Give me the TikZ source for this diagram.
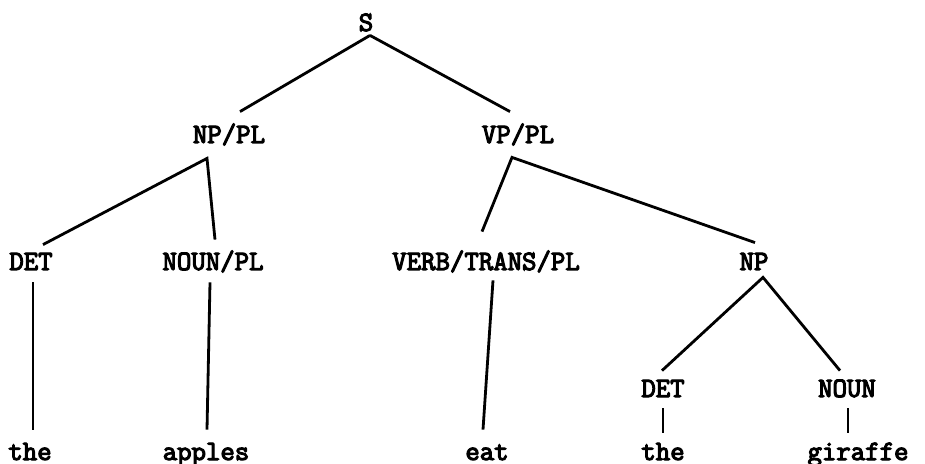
\documentclass[tikz,border=0pt]{standalone}
\usepackage{fontspec}
\newfontfamily\treefont{Latin Modern Mono}[FakeBold=4]
\usetikzlibrary{positioning}
\tikzset{
  cat/.style={inner sep=0pt,anchor=base,text height=7.5pt,text depth=0pt,
              font=\treefont\fontsize{14}{16}\selectfont,text=black},
  word/.style={cat},
  branch/.style={draw=black,line width=1.4pt},
}
\begin{document}
\begin{tikzpicture}[x=0.5pt,y=-0.5pt]
  \useasboundingbox[fill=white] (0,0) rectangle (925,464);

  % ---------- phrase level ----------
  \node[cat] (s)    at (366,31)  {S};
  \node[cat] (nppl) at (229,143) {NP/PL};
  \node[cat] (vppl) at (518,143) {VP/PL};

  % ---------- pre-terminals ----------
  \node[cat] (det)  at (31,270)  {DET};
  \node[cat] (noun) at (213,270) {NOUN/PL};
  \node[cat] (verb) at (486,270) {VERB/TRANS/PL};
  \node[cat] (np)   at (754,270) {NP};
  \node[cat] (detb) at (663,397) {DET};
  \node[cat] (nounb) at (847,397) {NOUN};

  % ---------- words ----------
  \node[word] (the)    at (30,460)  {the};
  \node[word] (apples) at (206,460) {apples};
  \node[word] (eat)    at (487,460) {eat};
  \node[word] (theb)   at (663,460) {the};
  \node[word] (giraffe) at (858,460) {giraffe};

  % ---------- branches ----------
  \draw[branch] ([shift={(4,4)}]s.south) -- ([shift={(11,-16)}]nppl.north);
  \draw[branch] ([shift={(4,4)}]s.south) -- ([shift={(-8,-16)}]vppl.north);
  \draw[branch] ([shift={(12,-10)}]det.north) -- ([shift={(-22,15)}]nppl.south)
                -- ([shift={(2,-15)}]noun.north);
  \draw[branch] ([shift={(-4,-23)}]verb.north) -- ([shift={(-6,14)}]vppl.south)
                -- ([shift={(1,-12)}]np.north);
  \draw[branch] ([shift={(-1,-11)}]detb.north) -- ([shift={(9,7)}]np.south)
                -- ([shift={(-7,-11)}]nounb.north);
  \draw[branch] ([shift={(2,12)}]det.south)  -- ([shift={(3,-15)}]the.north);
  \draw[branch] ([shift={(-3,12)}]noun.south) -- ([shift={(1,-15)}]apples.north);
  \draw[branch] ([shift={(7,10)}]verb.south) -- ([shift={(-4,-15)}]eat.north);
  \draw[branch] ([shift={(0,11)}]detb.south) -- ([shift={(0,-12)}]theb.north);
  \draw[branch] ([shift={(1,11)}]nounb.south) -- ([shift={(-10,-12)}]giraffe.north);
\end{tikzpicture}
\end{document}
